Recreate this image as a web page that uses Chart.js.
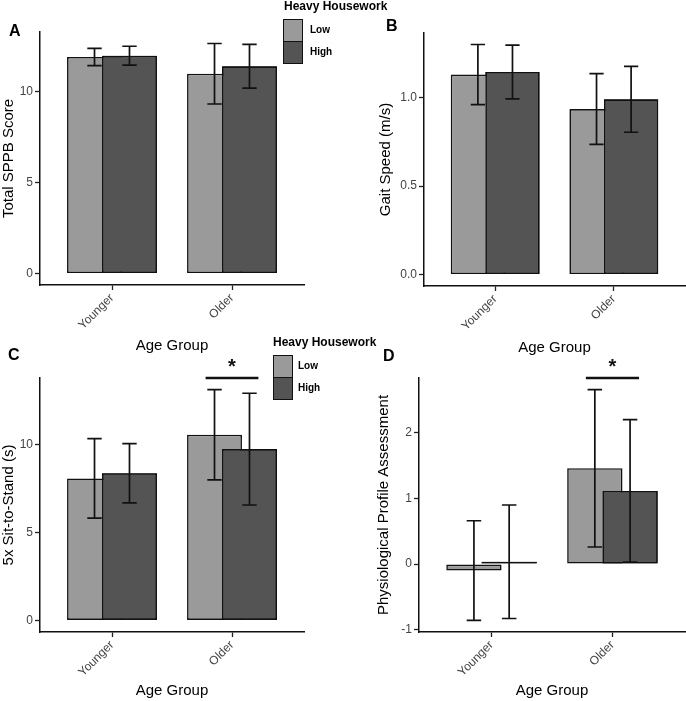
<!DOCTYPE html>
<html>
<head>
<meta charset="utf-8">
<script src="https://cdn.jsdelivr.net/npm/chart.js@4.4.1/dist/chart.umd.min.js"></script>
<style>
  body { margin: 0; background: #fff; font-family: "Liberation Sans", Arial, sans-serif; }
  #wrap { position: relative; width: 686px; height: 701px; overflow: hidden; }
  canvas { position: absolute; }
  .tag { position: absolute; font-weight: bold; font-size: 16px; line-height: 16px; }
  .legTitle { position: absolute; font-weight: bold; font-size: 12px; line-height: 12px; white-space: nowrap; }
  .legKey { position: absolute; box-sizing: border-box; border: 1.5px solid #111; }
  .legLbl { position: absolute; font-weight: bold; font-size: 10px; line-height: 10px; }
</style>
</head>
<body>
<div id="wrap">
  <canvas id="pA" width="343" height="358" style="left:0;top:0"></canvas>
  <canvas id="pB" width="343" height="358" style="left:343px;top:0"></canvas>
  <canvas id="pC" width="343" height="343" style="left:0;top:358px"></canvas>
  <canvas id="pD" width="343" height="343" style="left:343px;top:358px"></canvas>
  <div class="tag" style="left:9px;top:23px">A</div>
  <div class="tag" style="left:386px;top:18px">B</div>
  <div class="tag" style="left:8px;top:347px">C</div>
  <div class="tag" style="left:383px;top:348px">D</div>
</div>
<script>
// data
const categories = ['Younger', 'Older'];
const groups = ['Low', 'High'];
const groupColors = ['#9a9a9a', '#545454'];

// A: Total SPPB score
const sppbLow = [11.88, 10.96];
const sppbLowSd = [0.47, 1.66];
const sppbHigh = [11.95, 11.37];
const sppbHighSd = [0.52, 1.2];
const sppbTicks = [0, 5, 10];

// B: gait speed
const gaitLow = [1.13, 0.935];
const gaitLowSd = [0.17, 0.2];
const gaitHigh = [1.145, 0.99];
const gaitHighSd = [0.152, 0.186];
const gaitTicks = [0, 0.5, 1.0];

// C: 5x sit-to-stand
const stsLow = [8.06, 10.54];
const stsLowSd = [2.25, 2.56];
const stsHigh = [8.35, 9.72];
const stsHighSd = [1.68, 3.17];
const stsTicks = [0, 5, 10];

// D: physiological profile assessment
const ppaLow = [-0.1, 1.46];
const ppaLowSd = [0.76, 1.2];
const ppaHigh = [0.035, 1.115];
const ppaHighSd = [0.865, 1.085];
const ppaTicks = [-1, 0, 1, 2];

Chart.defaults.font.family = '"Liberation Sans", Arial, sans-serif';

// error bars + significance marker
const errorBars = {
  id: 'errorBars',
  afterDatasetsDraw(chart, args, opts) {
    const ctx = chart.ctx;
    const x = chart.scales.x, y = chart.scales.y;
    // chart.js paints the first dataset last; put "High" back on top like ggplot's dodge
    chart.getDatasetMeta(1).controller.draw();
    const half = x.getPixelForValue(1 + opts.whisker) - x.getPixelForValue(1);
    ctx.save();
    ctx.strokeStyle = '#111';
    ctx.lineWidth = 1.7;
    chart.data.datasets.forEach((ds, di) => {
      chart.getDatasetMeta(di).data.forEach((bar, i) => {
        const m = ds.data[i].y, s = ds.sd[i];
        const top = y.getPixelForValue(m + s), bot = y.getPixelForValue(m - s);
        ctx.beginPath();
        ctx.moveTo(bar.x, top); ctx.lineTo(bar.x, bot);
        ctx.moveTo(bar.x - half, top); ctx.lineTo(bar.x + half, top);
        ctx.moveTo(bar.x - half, bot); ctx.lineTo(bar.x + half, bot);
        ctx.stroke();
      });
    });
    if (opts.sig) {
      const yy = chart.chartArea.top;
      ctx.lineWidth = 2.4;
      ctx.beginPath();
      ctx.moveTo(x.getPixelForValue(opts.sig - 0.22), yy);
      ctx.lineTo(x.getPixelForValue(opts.sig + 0.22), yy);
      ctx.stroke();
      ctx.fillStyle = '#111';
      ctx.font = 'bold 20px "Liberation Sans", Arial, sans-serif';
      ctx.textAlign = 'center';
      ctx.textBaseline = 'alphabetic';
      ctx.fillText('*', x.getPixelForValue(opts.sig), yy - 5);
    }
    ctx.restore();
  }
};

function panel(id, low, lowSd, high, highSd, ticks, fmt, yTitle, geo, sig) {
  // ggplot-like 5% expansion of the data range
  let lo = 0, hi = 0;
  [[low, lowSd], [high, highSd]].forEach(([m, s]) => {
    m.forEach((v, i) => { lo = Math.min(lo, v - s[i]); hi = Math.max(hi, v + s[i]); });
  });
  const pad = (hi - lo) * 0.05;
  const canvas = document.getElementById(id);
  const W = canvas.width, H = canvas.height;

  new Chart(canvas, {
    type: 'bar',
    data: {
      datasets: [
        { label: groups[0], data: categories.map((c, i) => ({ x: i + 1, y: low[i] })), sd: lowSd,
          backgroundColor: groupColors[0], borderColor: '#111', borderWidth: 1.6, borderSkipped: false },
        { label: groups[1], data: categories.map((c, i) => ({ x: i + 1, y: high[i] })), sd: highSd,
          backgroundColor: groupColors[1], borderColor: '#111', borderWidth: 1.6, borderSkipped: false }
      ]
    },
    options: {
      responsive: false,
      animation: false,
      categoryPercentage: 0.583,
      barPercentage: 1.57,
      layout: { padding: { left: 0, top: geo.top, right: W - geo.right, bottom: 0 } },
      plugins: {
        legend: { display: false },
        tooltip: { enabled: false },
        errorBars: { whisker: 0.06, sig: sig }
      },
      scales: {
        x: {
          type: 'linear', min: 0.4, max: 2.6, offset: false,
          afterFit: s => { s.height = H - geo.bottom; },
          afterBuildTicks: s => { s.ticks = categories.map((c, i) => ({ value: i + 1 })); },
          ticks: { color: '#444', font: { size: 12 }, minRotation: 45, maxRotation: 45, padding: 1,
                   callback: v => categories[v - 1] },
          grid: { offset: false, drawOnChartArea: false, tickLength: 5, tickColor: '#222', tickWidth: 1.3 },
          border: { display: true, color: '#111', width: 1.5 },
          title: { display: true, text: 'Age Group', color: '#000', font: { size: 15 },
                   padding: { top: 0, bottom: geo.xPad } }
        },
        y: {
          min: lo - pad, max: hi + pad,
          afterFit: s => { s.width = geo.left; },
          afterBuildTicks: s => { s.ticks = ticks.map(v => ({ value: v })); },
          ticks: { color: '#444', font: { size: 12 }, padding: 2, callback: v => fmt(v) },
          grid: { drawOnChartArea: false, tickLength: 5, tickColor: '#222', tickWidth: 1.3 },
          border: { display: true, color: '#111', width: 1.5 },
          title: { display: true, text: yTitle, color: '#000', font: { size: 15 },
                   padding: { top: geo.yPad, bottom: 0 } }
        }
      }
    },
    plugins: [errorBars]
  });
}

panel('pA', sppbLow, sppbLowSd, sppbHigh, sppbHighSd, sppbTicks, v => String(v), 'Total SPPB Score',
  { left: 40, right: 304, top: 32, bottom: 285, xPad: 3, yPad: 0 }, null);
panel('pB', gaitLow, gaitLowSd, gaitHigh, gaitHighSd, gaitTicks, v => v.toFixed(1), 'Gait Speed (m/s)',
  { left: 81, right: 342, top: 33, bottom: 286, xPad: 1, yPad: 34 }, null);
panel('pC', stsLow, stsLowSd, stsHigh, stsHighSd, stsTicks, v => String(v), '5x Sit-to-Stand (s)',
  { left: 40, right: 304, top: 20, bottom: 274, xPad: 1, yPad: 0 }, 2);
panel('pD', ppaLow, ppaLowSd, ppaHigh, ppaHighSd, ppaTicks, v => String(v), 'Physiological Profile Assessment',
  { left: 76, right: 342, top: 20, bottom: 274, xPad: 1, yPad: 32 }, 2);

// legends
function legend(left, top, keyLeft, keyTop, lblLeft) {
  const wrap = document.getElementById('wrap');
  const t = document.createElement('div');
  t.className = 'legTitle';
  t.style.left = left + 'px'; t.style.top = top + 'px';
  t.textContent = 'Heavy Housework';
  wrap.appendChild(t);
  groups.forEach((g, i) => {
    const k = document.createElement('div');
    k.className = 'legKey';
    k.style.left = keyLeft + 'px'; k.style.top = (keyTop + i * 22) + 'px';
    k.style.width = '20px'; k.style.height = '23px';
    k.style.background = groupColors[i];
    wrap.appendChild(k);
    const l = document.createElement('div');
    l.className = 'legLbl';
    l.style.left = lblLeft + 'px'; l.style.top = (keyTop + 6 + i * 22) + 'px';
    l.textContent = g;
    wrap.appendChild(l);
  });
}
legend(284, 0, 283, 19, 310);
legend(273, 336, 273, 355, 298);
</script>
</body>
</html>
